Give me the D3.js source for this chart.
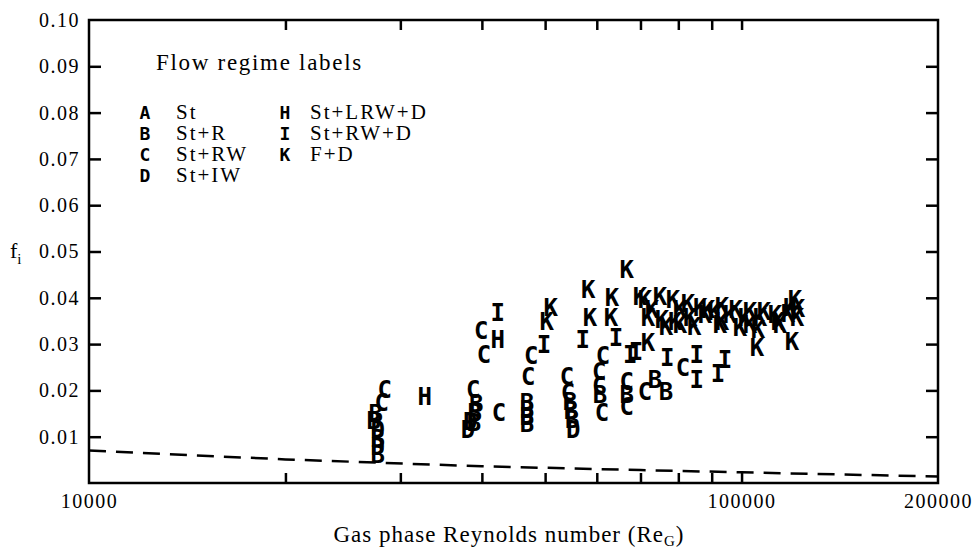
<!DOCTYPE html>
<html>
<head>
<meta charset="utf-8">
<script src="https://cdn.jsdelivr.net/npm/d3@7"></script>
<style>
  body { margin: 0; background: #fff; }
  svg { display: block; }
</style>
</head>
<body>
<div id="chart"></div>
<script>
const SERIF = "'Liberation Serif', 'Times New Roman', Times, serif";
const MONO = "'DejaVu Sans Mono', 'Liberation Mono', monospace";

// Axis ticks
const reTicks = [20000, 30000, 40000, 50000, 60000, 70000, 80000, 90000, 100000];
const reLabels = [10000, 100000, 200000];
const fTicks = [0.01, 0.02, 0.03, 0.04, 0.05, 0.06, 0.07, 0.08, 0.09];
const fLabels = [0.01, 0.02, 0.03, 0.04, 0.05, 0.06, 0.07, 0.08, 0.09, 0.10];

// Flow regime legend
const regimeCodes = ["A", "B", "C", "D", "H", "I", "K"];
const regimeNames = ["St", "St+R", "St+RW", "St+IW", "St+LRW+D", "St+RW+D", "F+D"];

// Dashed reference curve [Re, f]
const curveRe = [10000, 20000, 40000, 70000, 100000, 200000];
const curveF = [0.0070, 0.0051, 0.0036, 0.0028, 0.0023, 0.0014];

// Data points per regime [Re, f]
const pointsB = [
  [27500, 0.0149], [27300, 0.0134], [27700, 0.0095], [27700, 0.0060],
  [39200, 0.0170], [39000, 0.0151], [38900, 0.0130],
  [46900, 0.0173], [46900, 0.0158], [46900, 0.0143], [46900, 0.0127],
  [54600, 0.0175], [54800, 0.0156], [55000, 0.0136],
  [60700, 0.0190], [66700, 0.0190], [76600, 0.0197], [73700, 0.0222]
];
const pointsC = [
  [28400, 0.0201], [28100, 0.0173], [39900, 0.0328], [40300, 0.0276],
  [38800, 0.0201], [42500, 0.0151], [47600, 0.0274], [47100, 0.0229],
  [54000, 0.0229], [54200, 0.0194], [61300, 0.0274], [60500, 0.0240],
  [60500, 0.0210], [61100, 0.0151], [66700, 0.0218], [66700, 0.0164],
  [81300, 0.0248], [71100, 0.0197]
];
const pointsD = [
  [27700, 0.0114], [27700, 0.0078], [38400, 0.0132], [38100, 0.0114],
  [55200, 0.0114]
];
const pointsH = [[32700, 0.0186], [42300, 0.0309]];
const pointsI = [
  [42300, 0.0367], [49800, 0.0298], [57100, 0.0309], [64200, 0.0313],
  [67500, 0.0276], [68900, 0.0283], [76900, 0.0270], [85400, 0.0276],
  [85400, 0.0222], [92000, 0.0235], [94300, 0.0266]
];
const pointsK = [
  [66700, 0.0460], [58200, 0.0417], [58600, 0.0356], [51000, 0.0378],
  [50300, 0.0348], [63300, 0.0400], [63100, 0.0356], [69900, 0.0402],
  [71100, 0.0395], [75000, 0.0402], [78500, 0.0395], [82800, 0.0387],
  [86400, 0.0378], [71900, 0.0356], [75500, 0.0352], [79100, 0.0348],
  [83400, 0.0356], [87900, 0.0363], [71900, 0.0302], [91000, 0.0369],
  [96000, 0.0363], [101200, 0.0356], [106700, 0.0356], [112500, 0.0363],
  [118700, 0.0378], [120700, 0.0395], [92700, 0.0341], [99400, 0.0335],
  [106000, 0.0330], [114500, 0.0341], [121600, 0.0356], [105600, 0.0292],
  [119500, 0.0305], [72900, 0.0374], [76600, 0.0337], [80500, 0.0374],
  [84600, 0.0337], [88800, 0.0374], [93300, 0.0348], [98000, 0.0374],
  [103000, 0.0341], [108200, 0.0370], [113700, 0.0348], [117800, 0.0365],
  [80500, 0.0341], [93300, 0.0380], [103000, 0.0370], [122000, 0.0375]
];

const W = 972, H = 549;
const margin = { top: 20, right: 34, bottom: 66, left: 89 };

const svg = d3.select("#chart").append("svg")
  .attr("width", W)
  .attr("height", H);

const x = d3.scaleLog()
  .domain([10000, 200000])
  .range([margin.left, W - margin.right]);
const y = d3.scaleLinear()
  .domain([0, 0.1])
  .range([H - margin.bottom, margin.top]);

const x0 = x.range()[0], x1 = x.range()[1];
const y0 = y.range()[0], y1 = y.range()[1];

// Dashed curve
const line = d3.line()
  .x((d, i) => x(curveRe[i]))
  .y(d => y(d));
svg.append("path")
  .attr("d", line(curveF))
  .attr("fill", "none")
  .attr("stroke", "#000")
  .attr("stroke-width", 2.5)
  .attr("stroke-dasharray", "17,10");

// Axes (ticks pointing inward)
const gLeft = svg.append("g")
  .attr("transform", `translate(${x0},0)`)
  .call(d3.axisLeft(y).tickValues(fLabels).tickFormat(d3.format(".2f"))
    .tickSizeInner(-12).tickSizeOuter(0).tickPadding(9));
gLeft.selectAll(".tick").filter(d => d > 0.095).select("line").remove();

svg.append("g")
  .attr("transform", `translate(${x1},0)`)
  .call(d3.axisRight(y).tickValues(fTicks).tickFormat("")
    .tickSizeInner(-12).tickSizeOuter(0));

svg.append("g")
  .attr("transform", `translate(0,${y0})`)
  .call(d3.axisBottom(x).tickValues(reTicks).tickFormat("")
    .tickSizeInner(-10).tickSizeOuter(0));

svg.append("g")
  .attr("transform", `translate(0,${y0})`)
  .call(d3.axisBottom(x).tickValues(reLabels).tickFormat(d3.format("d"))
    .tickSize(0).tickPadding(11));

svg.append("g")
  .attr("transform", `translate(0,${y1})`)
  .call(d3.axisTop(x).tickValues(reTicks).tickFormat("")
    .tickSizeInner(-10).tickSizeOuter(0));

svg.selectAll(".domain").remove();
svg.selectAll(".tick line").attr("stroke", "#000").attr("stroke-width", 2.5);
svg.selectAll(".tick text")
  .attr("fill", "#000")
  .style("font-family", SERIF)
  .style("font-size", "20px")
  .style("letter-spacing", "1.5px");

// Frame
svg.append("rect")
  .attr("x", x0).attr("y", y1)
  .attr("width", x1 - x0).attr("height", y0 - y1)
  .attr("fill", "none")
  .attr("stroke", "#000")
  .attr("stroke-width", 2.5);

// Axis titles
const xt = svg.append("text")
  .attr("x", 509).attr("y", 542)
  .attr("text-anchor", "middle")
  .style("font-family", SERIF)
  .style("font-size", "23px")
  .style("letter-spacing", "1px");
xt.append("tspan").text("Gas phase Reynolds number (Re");
xt.append("tspan").attr("dy", 4).style("font-size", "15px").text("G");
xt.append("tspan").attr("dy", -4).text(")");

const yt = svg.append("text")
  .attr("x", 10).attr("y", 258)
  .style("font-family", SERIF)
  .style("font-size", "22px");
yt.append("tspan").text("f");
yt.append("tspan").attr("dy", 6).style("font-size", "15px").text("i");

// Data markers
const series = [
  ["B", pointsB], ["C", pointsC], ["D", pointsD],
  ["H", pointsH], ["I", pointsI], ["K", pointsK]
];
const gMarks = svg.append("g");
series.forEach(([code, pts]) => {
  gMarks.selectAll(null)
    .data(pts)
    .enter()
    .append("text")
    .attr("x", d => x(d[0]))
    .attr("y", d => y(d[1]))
    .attr("text-anchor", "middle")
    .attr("dominant-baseline", "central")
    .style("font-family", MONO)
    .style("font-weight", "bold")
    .style("font-size", "24px")
    .text(code);
});

// Legend
svg.append("text")
  .attr("x", 156).attr("y", 70)
  .style("font-family", SERIF)
  .style("font-size", "23px")
  .style("letter-spacing", "1.7px")
  .text("Flow regime labels");

regimeCodes.forEach((code, i) => {
  const col = i < 4 ? 0 : 1;
  const row = i < 4 ? i : i - 4;
  const g = svg.append("g")
    .attr("transform", `translate(${col === 0 ? 145 : 285},${119 + row * 21})`);
  g.append("text")
    .attr("text-anchor", "middle")
    .style("font-family", MONO)
    .style("font-weight", "bold")
    .style("font-size", "18px")
    .text(code);
  g.append("text")
    .attr("x", col === 0 ? 31 : 25)
    .style("font-family", SERIF)
    .style("font-size", "21px")
    .style("letter-spacing", "2px")
    .text(regimeNames[i]);
});
</script>
</body>
</html>
